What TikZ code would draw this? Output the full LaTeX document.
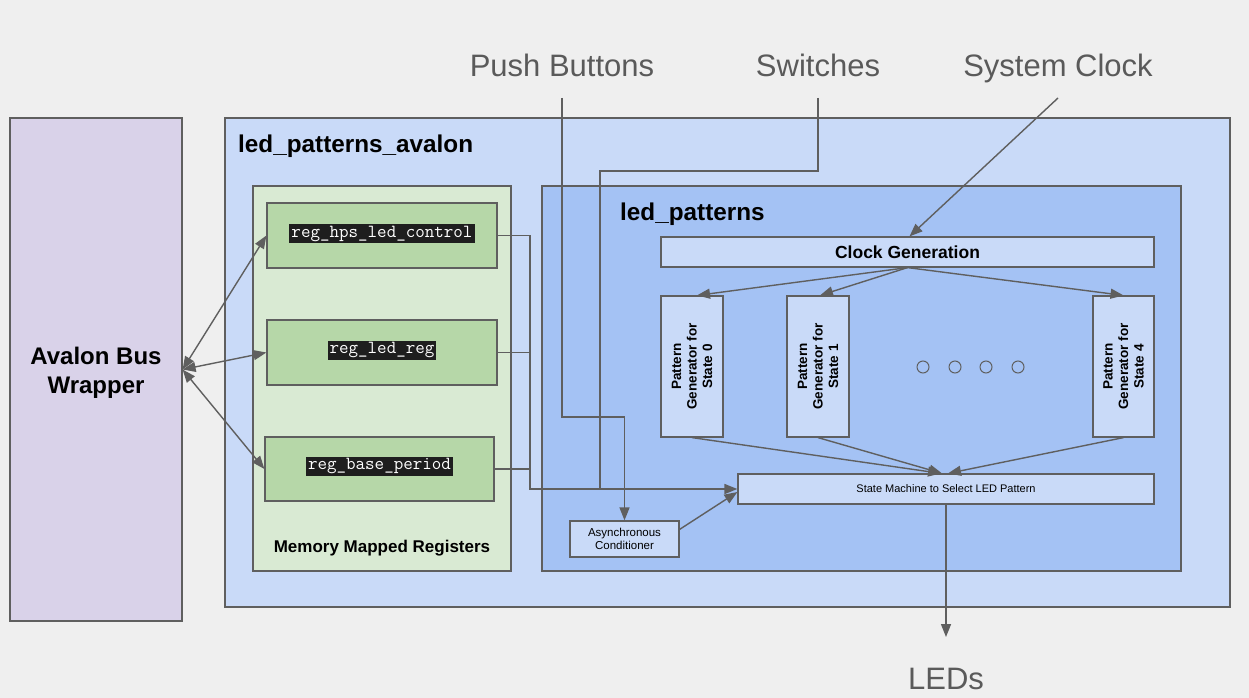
\documentclass[tikz,border=0pt]{standalone}
\usepackage{fontspec}
\setmainfont{Liberation Sans}
\usetikzlibrary{arrows.meta,calc}
\definecolor{bgc}{HTML}{EFEFEF}
\definecolor{lc}{HTML}{5F5F5F}
\definecolor{tc}{HTML}{5A5A5A}
\definecolor{avc}{HTML}{D9D2E9}
\definecolor{lpac}{HTML}{C9DAF8}
\definecolor{mmrc}{HTML}{D9EAD3}
\definecolor{regc}{HTML}{B6D7A8}
\definecolor{lpc}{HTML}{A4C2F4}
\definecolor{inc}{HTML}{C9DAF8}
\definecolor{codebg}{HTML}{1E1E1E}
\begin{document}
\begin{tikzpicture}[x=1pt,y=-1pt,
  blk/.style={draw=lc, line width=1.2pt, inner sep=0pt},
  wire/.style={draw=lc, line width=1.4pt},
  arr/.style={wire, -{Triangle[length=13pt,width=10pt]}},
  darr/.style={wire, {Triangle[length=13pt,width=10pt]}-{Triangle[length=13pt,width=10pt]}},
  ttl/.style={text=tc, font=\fontsize{31}{31}\selectfont, inner sep=0pt, anchor=base},
  code/.style={fill=codebg, text=white, inner xsep=2pt, inner ysep=0pt, minimum height=19pt, font=\ttfamily\fontsize{18.5}{18.5}\selectfont},
  pgbox/.style={blk, fill=inc, minimum width=62pt, minimum height=141pt},
  pgtxt/.style={rotate=90, align=center, font=\bfseries\fontsize{13.5}{15.5}\selectfont, inner sep=0pt},
  dot/.style={draw=lc, line width=1pt, fill=lpc, circle, minimum size=12pt, inner sep=0pt}]
\path[fill=bgc] (0,0) rectangle (1249,698);
\useasboundingbox (0,0) rectangle (1249,698);

% containers
\node[blk, fill=avc, minimum width=172pt, minimum height=503pt] (avalon) at (96,369.5) {};
\node[align=center, font=\bfseries\fontsize{24}{28.5}\selectfont, inner sep=0pt] (avalontxt) at (96,373) {Avalon Bus\\Wrapper};
\node[blk, fill=lpac, minimum width=1005pt, minimum height=489pt] (lpa) at (727.5,362.5) {};
\node[anchor=west, font=\bfseries\fontsize{24.3}{24.3}\selectfont, inner sep=0pt] (lpatxt) at (238,146) {led\_patterns\_avalon};
\node[blk, fill=mmrc, minimum width=258pt, minimum height=385pt] (mmr) at (382,378.5) {};
\node[font=\bfseries\fontsize{17}{17}\selectfont, inner sep=0pt] (mmrtxt) at (382,548) {Memory Mapped Registers};
\node[blk, fill=lpc, minimum width=639pt, minimum height=385pt] (lp) at (861.5,378.5) {};
\node[anchor=west, font=\bfseries\fontsize{24.3}{24.3}\selectfont, inner sep=0pt] (lptxt) at (620,214) {led\_patterns};

% registers
\node[blk, fill=regc, minimum width=230pt, minimum height=65pt] (reg1) at (382,235.5) {};
\node[code] (reg1t) at (382,233.5) {reg\_hps\_led\_control};
\node[blk, fill=regc, minimum width=230pt, minimum height=65pt] (reg2) at (382,352.5) {};
\node[code] (reg2t) at (382,350) {reg\_led\_reg};
\node[blk, fill=regc, minimum width=229pt, minimum height=64pt] (reg3) at (379.5,469) {};
\node[code] (reg3t) at (379.5,466) {reg\_base\_period};

% led_patterns internals
\node[blk, fill=inc, minimum width=493pt, minimum height=30pt, font=\bfseries\fontsize{17.5}{17.5}\selectfont] (clk) at (907.5,252) {Clock Generation};
\node[pgbox] (pg0) at (692,366.5) {};
\node[pgtxt] (pg0t) at (692,366.5) {Pattern\\Generator for\\State 0};
\node[pgbox] (pg1) at (818,366.5) {};
\node[pgtxt] (pg1t) at (818,366.5) {Pattern\\Generator for\\State 1};
\node[pgbox, minimum width=61pt] (pg4) at (1123.5,366.5) {};
\node[pgtxt] (pg4t) at (1123.5,366.5) {Pattern\\Generator for\\State 4};
\node[blk, fill=inc, minimum width=416pt, minimum height=30pt, font=\fontsize{11}{11}\selectfont] (sm) at (946,489) {State Machine to Select LED Pattern};
\node[blk, fill=inc, minimum width=109pt, minimum height=36pt, align=center, font=\fontsize{11.5}{13.5}\selectfont] (ac) at (624.5,539) {Asynchronous\\Conditioner};

\node[dot] (d1) at (923,367) {};
\node[dot] (d2) at (955,367) {};
\node[dot] (d3) at (986,367) {};
\node[dot] (d4) at (1018,367) {};

% outside labels
\node[ttl] (pb) at (562,77) {Push Buttons};
\node[ttl] (sw) at (818,77) {Switches};
\node[ttl] (sc) at (1058,77) {System Clock};
\node[ttl] (leds) at (946,689) {LEDs};
\coordinate (pbtop) at (562,98);
\coordinate (swtop) at (818,98);
\coordinate (sctop) at (1058,98);
\coordinate (ledend) at (946,637);
\coordinate (pbturn) at (0,417);
\coordinate (swturn) at (600,171);
\coordinate (swend) at (600,489);
\coordinate (bus) at (530,489);

% connectors
\draw[arr] (pbtop) |- (pbturn -| ac.north) -- (ac.north);
\draw[wire] (swtop) |- (swturn) -- (swend);
\draw[arr] (sctop) -- ([xshift=2pt]clk.north);
\draw[arr] (reg1.east) -| (bus) -- (sm.west);
\draw[wire] (reg2.east) -- (reg2.east -| bus);
\draw[wire] (reg3.east) -- (reg3.east -| bus);
\draw[arr] ([yshift=-9pt]ac.north east) -- ([yshift=-3pt]sm.west);
\draw[arr] (clk.south) -- ([xshift=5pt]pg0.north);
\draw[arr] (clk.south) -- ([xshift=2pt]pg1.north);
\draw[arr] (clk.south) -- (pg4.north);
\draw[arr] (pg0.south) -- ([xshift=-5pt]sm.north);
\draw[arr] (pg1.south) -- ([xshift=-4pt]sm.north);
\draw[arr] (pg4.south) -- ([xshift=2pt]sm.north);
\draw[arr] (sm.south) -- (ledend);
\draw[darr] (avalon.east) -- (reg1.west);
\draw[darr] (avalon.east) -- (reg2.west);
\draw[darr] (avalon.east) -- (reg3.west);
\end{tikzpicture}
\end{document}
